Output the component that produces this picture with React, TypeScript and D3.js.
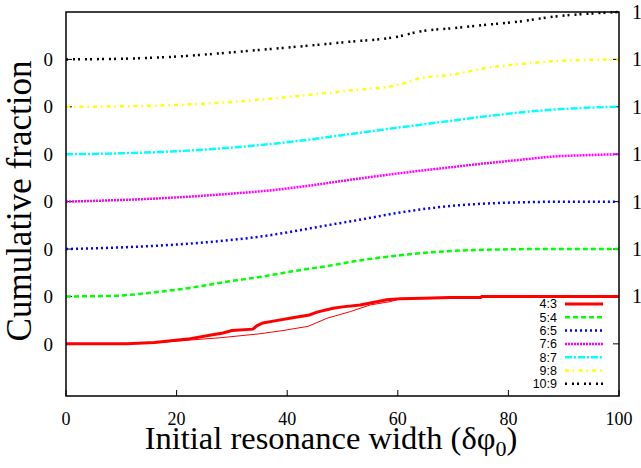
import React from "react";
import * as d3 from "d3";

const W = 641, H = 468;
const M = { left: 66, right: 619, top: 12, bottom: 396 };

const xTicks = [0, 20, 40, 60, 80, 100];
const labels = ["4:3", "5:4", "6:5", "7:6", "8:7", "9:8", "10:9"];
const colors = ["#ff0000", "#00ff00", "#0000ff", "#ff00ff", "#00ffff", "#ffff00", "#000000"];
const dashes = ["", "5,3", "2,3", "2,1", "7,2,2,2", "4,4,1.5,4", "2,5,2,3"];

// 4:3 thick and thin (fraction vs width)
const x43 = [0, 11, 16, 22, 26, 28.4, 30, 33.8, 34.5, 35.6, 38, 41, 44, 45.4, 48.3, 50, 53.2, 56.2, 58, 60.4, 64.6, 69.4, 75, 75.2, 100];
const f43 = [0, 0, 0.03, 0.1, 0.18, 0.23, 0.28, 0.31, 0.38, 0.44, 0.49, 0.55, 0.61, 0.67, 0.75, 0.78, 0.82, 0.89, 0.93, 0.95, 0.96, 0.98, 0.98, 1.0, 1.0];
const x43thin = [0, 11, 16, 22.4, 28, 34.9, 39.2, 43.8, 47.2, 51.4, 55, 58.6, 60.4, 64.6, 69.4, 75, 100];
const f43thin = [0, 0, 0.02, 0.08, 0.13, 0.21, 0.28, 0.37, 0.54, 0.68, 0.82, 0.89, 0.95, 0.96, 0.98, 1.0, 1.0];

const x54 = [0, 8, 17, 23, 29, 35, 41, 47.7, 53.7, 59.8, 65.8, 71.8, 77.9, 85, 100];
const f54 = [0, 0.01, 0.1, 0.19, 0.31, 0.41, 0.53, 0.65, 0.77, 0.86, 0.93, 0.97, 0.99, 1.0, 1.0];

const x65 = [0, 11, 23, 35, 47.7, 53.7, 59.8, 65.8, 71.8, 77.9, 84, 90, 100];
const f65 = [0, 0.04, 0.12, 0.26, 0.51, 0.63, 0.76, 0.86, 0.93, 0.97, 0.99, 1.0, 1.0];

const x76 = [0, 17, 29, 38, 42.3, 52, 60.4, 64, 70, 76, 82, 88, 94, 100];
const f76 = [0, 0.07, 0.16, 0.25, 0.31, 0.47, 0.6, 0.65, 0.73, 0.81, 0.88, 0.95, 0.98, 1.0];

const x87 = [0, 10, 24, 33, 42, 51, 60, 64, 70, 76, 82, 88, 94, 100];
const f87 = [0, 0.02, 0.09, 0.17, 0.28, 0.42, 0.56, 0.62, 0.71, 0.8, 0.88, 0.94, 0.98, 1.0];

const x98 = [0, 10, 24, 33, 42, 51, 60, 64, 70, 76, 82, 88, 94, 100];
const f98 = [0, 0.01, 0.06, 0.13, 0.23, 0.34, 0.46, 0.6, 0.68, 0.82, 0.9, 0.96, 0.99, 1.0];

const x109 = [0, 12, 20, 28, 35, 42, 51, 60, 64, 70, 76, 82, 88, 94, 100];
const f109 = [0, 0.02, 0.06, 0.13, 0.2, 0.27, 0.37, 0.48, 0.59, 0.66, 0.73, 0.8, 0.9, 0.96, 1.0];

const seriesX = [x43, x54, x65, x76, x87, x98, x109];
const seriesF = [f43, f54, f65, f76, f87, f98, f109];

export default function App() {
  const x = d3.scaleLinear().domain([0, 100]).range([M.left, M.right]);
  const y = d3.scaleLinear().domain([-1.1, 7]).range([M.bottom, M.top]);

  const mk = (xs: number[], fs: number[], off: number, curve: any) =>
    d3
      .line<number>()
      .x((_, i) => x(xs[i]))
      .y((_, i) => y(fs[i] + off))
      .curve(curve)(fs) as string;

  const serif = "'Liberation Serif', 'Times New Roman', serif";
  const sans = "'Liberation Sans', Arial, sans-serif";
  const offsets = d3.range(7);

  return (
    <svg width={W} height={H} style={{ position: "absolute", left: 0, top: 0, background: "#fff" }}>
      <rect x={0} y={0} width={W} height={H} fill="#fff" />
      {offsets.map((o) => (
        <line key={"lt" + o} x1={M.left} x2={M.left + 6} y1={y(o)} y2={y(o)} stroke="#000" strokeWidth={1} />
      ))}
      {d3.range(8).map((o) => (
        <line key={"rt" + o} x1={M.right - 6} x2={M.right} y1={y(o)} y2={y(o)} stroke="#000" strokeWidth={1} />
      ))}
      {xTicks.map((t) => (
        <line key={"xt" + t} x1={x(t)} x2={x(t)} y1={M.bottom} y2={M.bottom - 6} stroke="#000" strokeWidth={1} />
      ))}

      <path d={mk(x43thin, f43thin, 0, d3.curveLinear)} fill="none" stroke={colors[0]} strokeWidth={1} />
      {seriesX.map((xs, i) => (
        <path
          key={"c" + i}
          d={mk(xs, seriesF[i], i, i === 0 ? d3.curveLinear : d3.curveMonotoneX)}
          fill="none"
          stroke={colors[i]}
          strokeWidth={i === 0 ? 3 : 2.5}
          strokeDasharray={dashes[i] || undefined}
        />
      ))}

      <rect x={M.left} y={M.top} width={M.right - M.left} height={M.bottom - M.top} fill="none" stroke="#000" strokeWidth={1.5} />

      {offsets.map((o) => (
        <text key={"ll" + o} x={53} y={y(o)} dy="0.35em" textAnchor="end" fontFamily={serif} fontSize={19}>
          0
        </text>
      ))}
      {offsets.map((o) => (
        <text key={"rl" + o} x={632} y={y(o + 1)} dy="0.35em" textAnchor="start" fontFamily={serif} fontSize={20}>
          1
        </text>
      ))}
      {xTicks.map((t) => (
        <text key={"xl" + t} x={x(t)} y={425} textAnchor="middle" fontFamily={serif} fontSize={18}>
          {t}
        </text>
      ))}

      <text x={331} y={449} textAnchor="middle" fontFamily={serif} fontSize={32.5}>
        Initial resonance width (δφ
        <tspan fontSize={22} dy={7}>0</tspan>
        <tspan dy={-7}>)</tspan>
      </text>
      <text transform={`translate(31,201) rotate(-90)`} textAnchor="middle" fontFamily={serif} fontSize={35}>
        Cumulative fraction
      </text>

      {labels.map((l, i) => {
        const ly = 304 + i * 13.3;
        return (
          <g key={"lg" + i}>
            <text x={557} y={ly} dy="0.35em" textAnchor="end" fontFamily={sans} fontSize={12.5}>
              {l}
            </text>
            <line
              x1={565}
              x2={603}
              y1={ly}
              y2={ly}
              stroke={colors[i]}
              strokeWidth={i === 0 ? 3 : 2.5}
              strokeDasharray={dashes[i] || undefined}
            />
          </g>
        );
      })}
    </svg>
  );
}
